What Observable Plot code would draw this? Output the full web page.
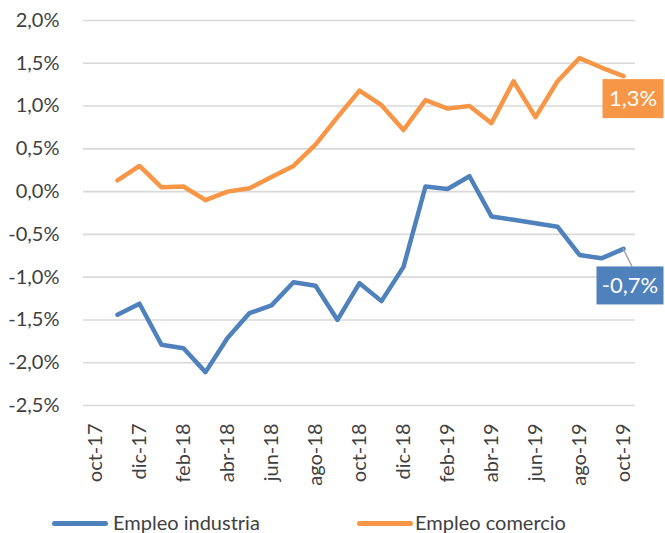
<!DOCTYPE html>
<html><head><meta charset="utf-8">
<script src="https://cdn.jsdelivr.net/npm/d3@7"></script>
<script src="https://cdn.jsdelivr.net/npm/@observablehq/plot@0.6"></script>
<style>
body{margin:0;background:#fff;font-family:Lato,"Open Sans",sans-serif;}
#wrap{position:relative;width:665px;height:533px;overflow:hidden;}
#legend{position:absolute;left:0;top:505px;width:665px;height:28px;}
.lg-line{position:absolute;top:16px;height:5px;border-radius:3px;}
.lg-text{position:absolute;top:3px;font-size:20px;color:#404040;line-height:28px;white-space:nowrap;}
</style></head><body>
<div id="wrap"><div id="chart"></div><div id="legend"></div></div>
<script>
const months = ["oct-17","nov-17","dic-17","ene-18","feb-18","mar-18","abr-18","may-18","jun-18","jul-18","ago-18","sep-18","oct-18","nov-18","dic-18","ene-19","feb-19","mar-19","abr-19","may-19","jun-19","jul-19","ago-19","sep-19","oct-19"];
const tickLabels = ["oct-17","dic-17","feb-18","abr-18","jun-18","ago-18","oct-18","dic-18","feb-19","abr-19","jun-19","ago-19","oct-19"];
const industria = [null,-1.44,-1.31,-1.79,-1.83,-2.11,-1.71,-1.42,-1.33,-1.06,-1.10,-1.50,-1.07,-1.28,-0.88,0.06,0.03,0.18,-0.29,-0.33,-0.37,-0.41,-0.74,-0.78,-0.67];
const comercio = [null,0.13,0.30,0.05,0.06,-0.10,0.00,0.04,0.17,0.30,0.55,0.87,1.18,1.01,0.72,1.07,0.97,1.00,0.80,1.29,0.87,1.29,1.56,1.45,1.35];
const yTicks = [-2.5,-2.0,-1.5,-1.0,-0.5,0.0,0.5,1.0,1.5,2.0];
const seriesNames = ["Empleo industria","Empleo comercio"];
const seriesColors = ["#4f81bd","#f79646"];
const endLabels = ["-0,7%","1,3%"];

const fmt = d => d.toFixed(1).replace(".", ",") + "%";
const rows = months.map((m, i) => ({month: m, industria: industria[i], comercio: comercio[i]})).filter(r => r.industria != null);

const chart = Plot.plot({
  width: 665, height: 505,
  marginLeft: 83, marginRight: 30, marginTop: 20, marginBottom: 100,
  style: {fontFamily: "Lato, 'Open Sans', sans-serif", fontSize: "20px", color: "#404040", background: "white", overflow: "visible"},
  x: {type: "point", domain: months, padding: 0.5, ticks: tickLabels, tickRotate: -90, tickSize: 0, tickPadding: 18, label: null},
  y: {domain: [-2.5, 2.0], ticks: yTicks, tickFormat: fmt, tickSize: 0, tickPadding: 24, label: null},
  marks: [
    Plot.ruleY(yTicks, {stroke: "#d9d9d9", strokeWidth: 1.6}),
    Plot.line(rows, {x: "month", y: "industria", stroke: seriesColors[0], strokeWidth: 4.5, strokeLinejoin: "round", strokeLinecap: "round"}),
    Plot.line(rows, {x: "month", y: "comercio", stroke: seriesColors[1], strokeWidth: 4.5, strokeLinejoin: "round", strokeLinecap: "round"})
  ]
});
document.getElementById("chart").appendChild(chart);

// end labels positioned from the plot's scales
const xs = chart.scale("x"), ys = chart.scale("y");
const svg = d3.select(chart);
const last = rows[rows.length - 1];
const specs = [
  {v: last.industria, text: endLabels[0], color: seriesColors[0], ox: 7, oy: 37, w: 67, h: 38, leader: true},
  {v: last.comercio, text: endLabels[1], color: seriesColors[1], ox: 10, oy: 23, w: 61, h: 39, leader: false}
];
const g = svg.append("g");
specs.forEach(s => {
  const px = xs.apply(last.month), py = ys.apply(s.v);
  const cx = px + s.ox, cy = py + s.oy;
  if (s.leader) {
    g.append("line").attr("x1", px).attr("y1", py).attr("x2", px + 9).attr("y2", cy - s.h / 2)
      .attr("stroke", "#a6a6a6").attr("stroke-width", 1.5);
  }
  g.append("rect").attr("x", cx - s.w / 2).attr("y", cy - s.h / 2).attr("width", s.w).attr("height", s.h).attr("fill", s.color);
  g.append("text").attr("x", cx).attr("y", cy).attr("dy", "0.35em").attr("text-anchor", "middle")
    .attr("fill", "white").attr("font-size", 22).text(s.text);
});

// legend
const legend = d3.select("#legend");
const lgPos = [{line: 52, text: 113}, {line: 357, text: 415}];
seriesNames.forEach((n, i) => {
  legend.append("div").attr("class", "lg-line").style("left", lgPos[i].line + "px").style("width", "56px").style("background", seriesColors[i]);
  legend.append("div").attr("class", "lg-text").style("left", lgPos[i].text + "px").text(n);
});
</script>
</body></html>
